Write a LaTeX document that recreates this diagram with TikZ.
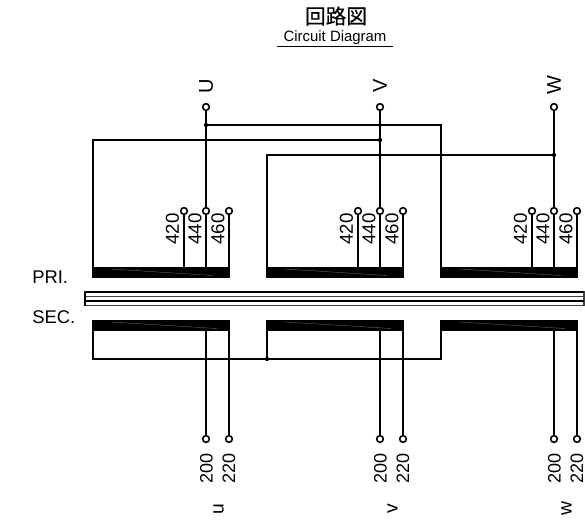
\documentclass[tikz,border=0pt]{standalone}
\usepackage{fontspec}
\setmainfont{Liberation Sans}
\newfontfamily\cjk[FakeBold=0.4]{Noto Sans CJK JP}
\usetikzlibrary{positioning,calc}
\tikzset{
	wire/.style={line width=1.35pt,black},
	coil/.style={draw,fill=black,line width=0.8pt,inner sep=0pt,outer sep=0pt,minimum width=102pt,minimum height=7.5pt,anchor=north west},
	term/.style={circle,draw,fill=white,line width=1.2pt,inner sep=0pt,minimum size=5pt},
	junction/.style={circle,fill=black,inner sep=0pt,minimum size=3.2pt},
	volt/.style={rotate=90,inner sep=0pt,font=\fontsize{14}{14}\selectfont},
	voltlow/.style={rotate=90,inner sep=0pt,font=\fontsize{13.5}{14}\selectfont},
	phase/.style={rotate=90,inner sep=0pt,font=\fontsize{14.5}{15}\selectfont},
	side/.style={inner sep=0pt,anchor=west,font=\fontsize{13.8}{14}\selectfont}
}
\begin{document}
\begin{tikzpicture}[x=0.75pt,y=-0.75pt]
	\useasboundingbox (0,0) rectangle (585,524);
	\node[inner sep=0pt,font=\cjk\fontsize{15.5}{16}\selectfont] (title) at (336,16) {回路図};
	\node[inner sep=0pt,font=\fontsize{11.2}{12}\selectfont] (subtitle) at (335,38) {Circuit Diagram};
	\coordinate (ula) at (277,46.5);
	\coordinate (ulb) at (393,46.5);
	\draw[line width=1.1pt] (ula) -- (ulb);
	\node[side] (pri) at (32,277) {PRI.};
	\node[side] (sec) at (32,317) {SEC.};
	% core
	\draw[line width=0.8pt,black!75] (85,292) rectangle (584,305.5);
	\draw[line width=0.8pt,black!75] (85,296.5) -- (584,296.5);
	\draw[wire,line width=1.1pt] (85,292) -- (584,292);
	\draw[wire,line width=1.1pt] (85,301) -- (584,301);
	\draw[wire,line width=1.1pt] (85,292) -- (85,305.5);
	% one set of coils and taps per phase
	\foreach \ph/\x/\lo in {a/93/u,b/267/v,c/441/w} {
		\node[coil] (pri\ph) at (\x,267.3) {};
		\node[coil] (sec\ph) at (\x,320.8) {};
		\draw[black!55,line width=0.25pt] ($(\x,267)+(18,2)$) -- ($(\x,267)+(120,8.5)$);
		\draw[black!55,line width=0.25pt] ($(\x,320.5)+(18,1.5)$) -- ($(\x,320.5)+(124,8)$);
		\node[term] (tl\ph) at (\x+91,211) {};
		\node[term] (tm\ph) at (\x+113,211) {};
		\node[term] (th\ph) at (\x+136,211) {};
		\draw[wire] (tl\ph) -- (tl\ph |- pri\ph.north);
		\draw[wire] (tm\ph) -- (tm\ph |- pri\ph.north);
		\draw[wire] (th\ph) -- (th\ph |- pri\ph.north);
		\node[volt] (vl\ph) at (\x+79.5,229) {420};
		\node[volt] (vm\ph) at (\x+102,229) {440};
		\node[volt] (vh\ph) at (\x+125,229) {460};
		\node[term] (ta\ph) at (\x+113,439) {};
		\node[term] (tb\ph) at (\x+136,439) {};
		\draw[wire] (ta\ph |- sec\ph.south) -- (ta\ph);
		\draw[wire] (tb\ph |- sec\ph.south) -- (tb\ph);
		\node[voltlow] (va\ph) at (\x+113.5,468) {200};
		\node[voltlow] (vb\ph) at (\x+136,468) {220};
		\node[phase] (lo\ph) at (\x+125.5,509) {\lo};
	}
	% line terminals
	\node[term] (tU) at (206,107) {};
	\node[term] (tV) at (380,107) {};
	\node[term] (tW) at (554,107) {};
	\node[phase,font=\fontsize{15}{15}\selectfont] (lU) at (206,86) {U};
	\node[phase,font=\fontsize{15}{15}\selectfont] (lV) at (380,86) {V};
	\node[phase,font=\fontsize{15}{15}\selectfont] (lW) at (554,85) {W};
	\draw[wire] (tU) -- (tma);
	\draw[wire] (tV) -- (tmb);
	\draw[wire] (tW) -- (tmc);
	\node[junction] (jU) at (206,125) {};
	\node[junction] (jV) at (380,140) {};
	\node[junction] (jW) at (554,155) {};
	\draw[wire] (jU) -| (pric.north west);
	\draw[wire] (jV) -| (pria.north west);
	\draw[wire] (jW) -| (prib.north west);
	% secondary star point
	\node[junction] (star) at (267,359) {};
	\draw[wire] (seca.south west) |- (star) -| (secc.south west);
	\draw[wire] (star) -- (secb.south west);
\end{tikzpicture}
\end{document}
